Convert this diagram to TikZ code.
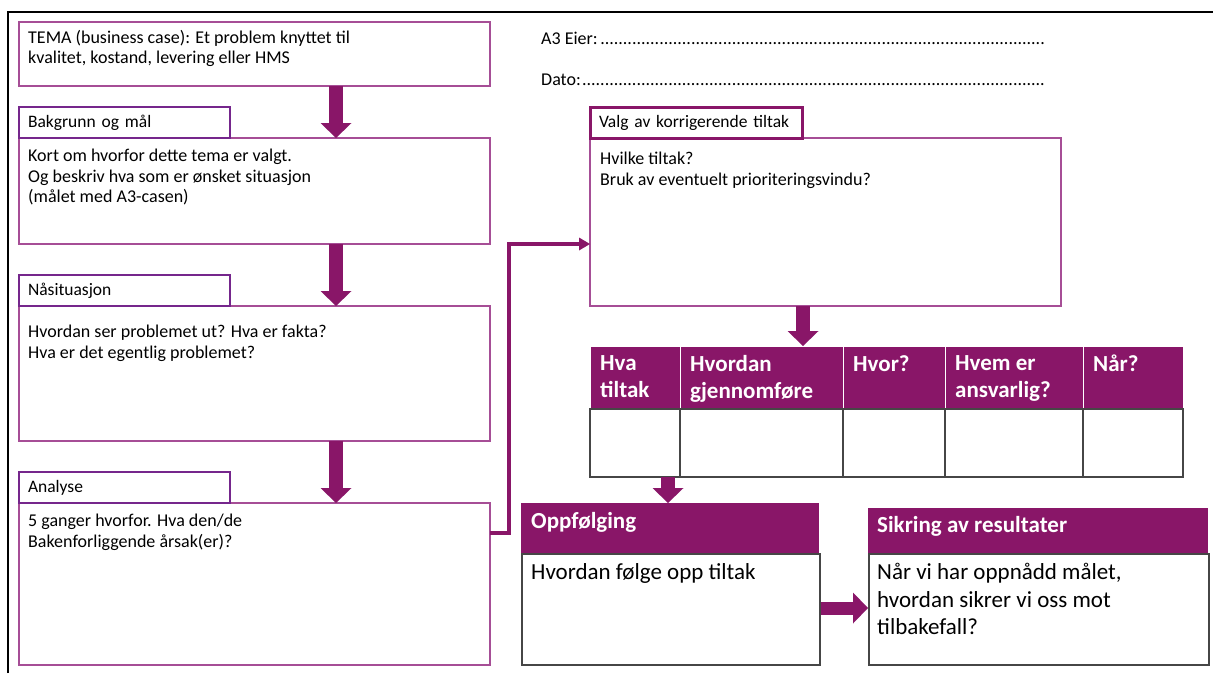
\documentclass[tikz,border=0pt]{standalone}
\usepackage{fontspec}
\setmainfont{Carlito}
\usetikzlibrary{arrows.meta,positioning,calc}
\definecolor{plum}{RGB}{137,22,104}
\definecolor{plumline}{RGB}{166,78,150}
\definecolor{tagline}{RGB}{117,38,140}
\definecolor{cellgray}{RGB}{70,70,70}

\begin{document}
\begin{tikzpicture}[
    x=1pt, y=-1pt,
    bodybox/.style={draw=plumline, line width=1.3pt, fill=white, anchor=north west, inner sep=0pt, outer sep=0pt},
    tagbox/.style={draw=tagline, line width=2.4pt, fill=white, anchor=north west, minimum height=31pt, inner xsep=9pt, inner ysep=0pt, text width=193pt, align=left, outer sep=0pt, font=\fontsize{17.5}{19}\selectfont},
    boxtext/.style={anchor=north west, align=left, inner sep=0pt, font=\fontsize{18}{20.5}\selectfont},
    bigtext/.style={anchor=north west, align=left, inner sep=0pt, font=\fontsize{23}{27.5}\selectfont},
    hdrtext/.style={anchor=north west, align=left, inner sep=0pt, text=white, font=\fontsize{23}{27}\selectfont\bfseries},
    hdrcell/.style={fill=plum, draw=white, line width=0.8pt, minimum height=63pt, inner sep=0pt, outer sep=0pt},
    bodycell/.style={draw=cellgray, line width=1.5pt, fill=white, minimum height=68pt, inner sep=0pt, outer sep=0pt},
    fatarrow/.style={draw=plum, line width=14pt, -{Triangle[width=31pt,length=15pt,line width=0pt]}},
    link/.style={draw=plum, line width=4pt, -{Triangle[width=13pt,length=11pt,line width=0pt]}}
]
\useasboundingbox (0,0) rectangle (1213,673);

% frame
\draw[line width=2pt] (8,673) -- (8,12) -- (1213,12);

% left column
\node[bodybox, minimum width=471pt, minimum height=64pt] (tema) at (19,22) {};
\node[boxtext] (tematxt) at ([xshift=9pt,yshift=-8pt]tema.north west) {TEMA (business case): Et problem knyttet til\\kvalitet, kostand, levering eller HMS};

\node[bodybox, minimum width=471pt, minimum height=106pt] (bakbody) at (19,138) {};
\node[tagbox] (baktag) at (19,107) {Bakgrunn og mål};
\node[boxtext] (baktxt) at ([xshift=9pt,yshift=-11pt]bakbody.north west) {Kort om hvorfor dette tema er valgt.\\Og beskriv hva som er ønsket situasjon\\(målet med A3-casen)};

\node[bodybox, minimum width=471pt, minimum height=135pt] (naabody) at (19,306) {};
\node[tagbox] (naatag) at (19,275) {Nåsituasjon};
\node[boxtext] (naatxt) at ([xshift=9pt,yshift=-19pt]naabody.north west) {Hvordan ser problemet ut? Hva er fakta?\\Hva er det egentlig problemet?};

\node[bodybox, minimum width=471pt, minimum height=162pt] (anbody) at (19,503) {};
\node[tagbox] (antag) at (19,472) {Analyse};
\node[boxtext] (antxt) at ([xshift=9pt,yshift=-11pt]anbody.north west) {5 ganger hvorfor. Hva den/de\\Bakenforliggende årsak(er)?};

\draw[fatarrow] ([xshift=-154pt]tema.south east) -- ([xshift=-154pt]bakbody.north east);
\draw[fatarrow] ([xshift=-154pt]bakbody.south east) -- ([xshift=-154pt]naabody.north east);
\draw[fatarrow] ([xshift=-154pt]naabody.south east) -- ([xshift=-154pt]anbody.north east);

% owner and date
\node[anchor=west, inner sep=0pt, font=\fontsize{18}{20}\selectfont] (eier) at (541,38) {\hbox to 507pt{A3 Eier:\leaders\hbox{.}\hfill}};
\node[anchor=west, inner sep=0pt, font=\fontsize{18}{20}\selectfont] (dato) at (541,80) {\hbox to 507pt{Dato:\leaders\hbox{.}\hfill}};

% corrective actions
\node[bodybox, minimum width=471pt, minimum height=168pt] (valgbody) at (590,138) {};
\node[tagbox, draw=plum, line width=3pt, text width=194pt] (valgtag) at (590,107) {Valg av korrigerende tiltak};
\node[boxtext] (valgtxt) at ([xshift=10pt,yshift=-14pt]valgbody.north west) {Hvilke tiltak?\\Bruk av eventuelt prioriteringsvindu?};

\draw[link] ([yshift=-30pt]anbody.north east) -- ++(19,0) |- ([yshift=-106pt]valgbody.north west);

% action table
\node[hdrcell, anchor=north west, minimum width=90pt] (h1) at (590,346) {};
\node[hdrcell, right=0pt of h1, minimum width=163pt] (h2) {};
\node[hdrcell, right=0pt of h2, minimum width=102pt] (h3) {};
\node[hdrcell, right=0pt of h3, minimum width=138pt] (h4) {};
\node[hdrcell, right=0pt of h4, minimum width=100pt] (h5) {};
\node[bodycell, below=0pt of h1, minimum width=90pt] (c1) {};
\node[bodycell, below=0pt of h2, minimum width=163pt] (c2) {};
\node[bodycell, below=0pt of h3, minimum width=102pt] (c3) {};
\node[bodycell, below=0pt of h4, minimum width=138pt] (c4) {};
\node[bodycell, below=0pt of h5, minimum width=100pt] (c5) {};
\node[hdrtext] (h1txt) at ([xshift=10pt,yshift=-9pt]h1.north west) {Hva\\tiltak};
\node[hdrtext] (h2txt) at ([xshift=10pt,yshift=-9pt]h2.north west) {Hvordan\\gjennomføre};
\node[hdrtext] (h3txt) at ([xshift=10pt,yshift=-9pt]h3.north west) {Hvor?};
\node[hdrtext] (h4txt) at ([xshift=10pt,yshift=-9pt]h4.north west) {Hvem er\\ansvarlig?};
\node[hdrtext] (h5txt) at ([xshift=10pt,yshift=-9pt]h5.north west) {Når?};

\draw[fatarrow] ([xshift=-22.5pt]valgbody.south) -- ([xshift=-22.5pt]valgbody.south |- h1.north);

% follow-up and securing
\node[fill=plum, anchor=north west, minimum width=298pt, minimum height=50pt, inner sep=0pt] (opphead) at (521,503) {};
\node[draw=cellgray, line width=1.5pt, anchor=north west, minimum width=298pt, minimum height=111pt, inner sep=0pt] (oppbody) at (521,553) {};
\node[hdrtext] (opphtxt) at ([xshift=10pt,yshift=-9pt]opphead.north west) {Oppfølging};
\node[bigtext] (opptxt) at ([xshift=10pt,yshift=-10pt]oppbody.north west) {Hvordan følge opp tiltak};

\node[fill=plum, anchor=north west, minimum width=340pt, minimum height=45pt, inner sep=0pt] (sikhead) at (868,508) {};
\node[draw=cellgray, line width=1.5pt, anchor=north west, minimum width=340pt, minimum height=111pt, inner sep=0pt] (sikbody) at (868,553) {};
\node[hdrtext] (sikhtxt) at ([xshift=9pt,yshift=-8pt]sikhead.north west) {Sikring av resultater};
\node[bigtext] (siktxt) at ([xshift=9pt,yshift=-10pt]sikbody.north west) {Når vi har oppnådd målet,\\hvordan sikrer vi oss mot\\tilbakefall?};

\draw[fatarrow] ([xshift=-12pt]c1.south east) -- ([xshift=-12pt]c1.south east |- opphead.north);
\draw[fatarrow, line width=13pt] ([yshift=-55pt]oppbody.north east) -- ([yshift=-55pt]sikbody.north west);

\end{tikzpicture}
\end{document}
